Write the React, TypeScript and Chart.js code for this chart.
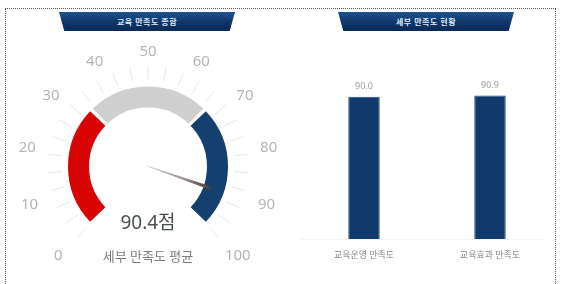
import React, { useEffect, useRef } from "react";
import { Chart, registerables } from "chart.js";

Chart.register(...registerables);

// ---- Gauge data ----
const gaugeMin = 0;
const gaugeMax = 100;
const gaugeBands = [33.33, 33.34, 33.33];
const gaugeBandColors = ["#d80404", "#cfcfcf", "#13406f"];
const gaugeValue = 90.4;
const gaugeTickLabels = [0, 10, 20, 30, 40, 50, 60, 70, 80, 90, 100];
const gaugeMinorTickCount = 27;
const gaugeValueText = "90.4점";
const gaugeCaption = "세부 만족도 평균";

// ---- Bar data ----
const barCategories = ["교육운영 만족도", "교육효과 만족도"];
const barValues = [90.0, 90.9];

// ---- Titles ----
const leftTitle = "교육 만족도 종합";
const rightTitle = "세부 만족도 현황";

const FONT = "'Noto Sans', 'Noto Sans CJK KR', sans-serif";

const gaugeDecor = {
  id: "gaugeDecor",
  afterDatasetsDraw(chart: any) {
    const meta = chart.getDatasetMeta(0);
    const first = meta.data[0];
    const last = meta.data[meta.data.length - 1];
    if (!first) return;
    const cx = first.x;
    const cy = first.y;
    const R = first.outerRadius;
    const a0 = first.startAngle;
    const a1 = last.endAngle;
    const ang = (v: number) => a0 + ((v - gaugeMin) / (gaugeMax - gaugeMin)) * (a1 - a0);
    const ctx = chart.ctx;
    ctx.save();
    // minor ticks
    ctx.strokeStyle = "#e6e6e6";
    ctx.lineWidth = 1;
    for (let i = 0; i < gaugeMinorTickCount; i++) {
      const a = a0 + (i / (gaugeMinorTickCount - 1)) * (a1 - a0);
      ctx.beginPath();
      ctx.moveTo(cx + Math.cos(a) * (R + 8), cy + Math.sin(a) * (R + 8));
      ctx.lineTo(cx + Math.cos(a) * (R + 22), cy + Math.sin(a) * (R + 22));
      ctx.stroke();
    }
    // labels
    ctx.fillStyle = "#b4b4b4";
    ctx.font = `15px ${FONT}`;
    ctx.textAlign = "center";
    ctx.textBaseline = "middle";
    const half = (gaugeMax - gaugeMin) / 2;
    gaugeTickLabels.forEach((v) => {
      const a = ang(v);
      const frac = Math.abs(v - (gaugeMin + half)) / half;
      const r = R + 37 + 12 * frac;
      ctx.fillText(String(v), cx + Math.cos(a) * r, cy + Math.sin(a) * r);
    });
    // needle
    const an = ang(gaugeValue);
    const len = R - 14;
    const px = -Math.sin(an);
    const py = Math.cos(an);
    const grad = ctx.createLinearGradient(cx, cy, cx + Math.cos(an) * len, cy + Math.sin(an) * len);
    grad.addColorStop(0, "#d0d0d0");
    grad.addColorStop(0.6, "#9a9090");
    grad.addColorStop(1, "#4e3e36");
    ctx.fillStyle = grad;
    ctx.beginPath();
    ctx.moveTo(cx + px * 0.4, cy + py * 0.4);
    ctx.lineTo(cx + Math.cos(an) * len + px * 1.8, cy + Math.sin(an) * len + py * 1.8);
    ctx.lineTo(cx + Math.cos(an) * (len + 4), cy + Math.sin(an) * (len + 4));
    ctx.lineTo(cx + Math.cos(an) * len - px * 1.8, cy + Math.sin(an) * len - py * 1.8);
    ctx.lineTo(cx - px * 0.4, cy - py * 0.4);
    ctx.closePath();
    ctx.fill();
    // center text
    ctx.fillStyle = "#4a4f52";
    ctx.font = `19px ${FONT}`;
    ctx.fillText(gaugeValueText, cx, cy + 57);
    ctx.fillStyle = "#7d7d7d";
    ctx.font = `13px ${FONT}`;
    ctx.fillText(gaugeCaption, cx, cy + 91);
    ctx.restore();
  },
};

const barDecor = {
  id: "barDecor",
  afterDatasetsDraw(chart: any) {
    const ctx = chart.ctx;
    const area = chart.chartArea;
    const xs = chart.scales.x;
    const meta = chart.getDatasetMeta(0);
    ctx.save();
    ctx.strokeStyle = "#f2f2f2";
    ctx.lineWidth = 1;
    ctx.beginPath();
    ctx.moveTo(area.left, area.bottom + 0.5);
    ctx.lineTo(area.right - 8, area.bottom + 0.5);
    ctx.stroke();
    ctx.textAlign = "center";
    ctx.textBaseline = "middle";
    ctx.font = `9px ${FONT}`;
    meta.data.forEach((bar: any, i: number) => {
      ctx.fillStyle = "#a0a0a0";
      ctx.fillText(barValues[i].toFixed(1), bar.x, bar.y - 10);
      ctx.fillStyle = "#8a8a8a";
      ctx.fillText(barCategories[i], xs.getPixelForValue(i), area.bottom + 16);
    });
    ctx.restore();
  },
};

function Gauge() {
  const ref = useRef<HTMLCanvasElement>(null);
  useEffect(() => {
    const chart = new Chart(ref.current!, {
      type: "doughnut",
      data: {
        labels: ["low", "mid", "high"],
        datasets: [
          {
            data: gaugeBands,
            backgroundColor: gaugeBandColors,
            borderWidth: 0,
          },
        ],
      },
      options: {
        animation: false,
        responsive: false,
        maintainAspectRatio: false,
        rotation: -135,
        circumference: 270,
        cutout: "73%",
        radius: 78,
        spacing: 4,
        layout: { padding: { left: 14, right: 0, top: 26, bottom: 0 } },
        plugins: { legend: { display: false }, tooltip: { enabled: false } },
      } as any,
      plugins: [gaugeDecor],
    });
    return () => chart.destroy();
  }, []);
  return <canvas ref={ref} width={282} height={284} style={{ position: "absolute", left: 0, top: 0, width: 282, height: 284 }} />;
}

function Bars() {
  const ref = useRef<HTMLCanvasElement>(null);
  useEffect(() => {
    const chart = new Chart(ref.current!, {
      type: "bar",
      data: {
        labels: barCategories,
        datasets: [
          {
            data: barValues,
            backgroundColor: "#0f3a6b",
            borderColor: "#1f4f85",
            borderWidth: 1,
            barPercentage: 0.25,
            categoryPercentage: 1,
          },
        ],
      },
      options: {
        animation: false,
        responsive: false,
        maintainAspectRatio: false,
        layout: { padding: { left: 19, right: 11, top: 81, bottom: 45 } },
        scales: {
          x: { display: false },
          y: { display: false, min: 0, max: 100 },
        },
        plugins: { legend: { display: false }, tooltip: { enabled: false } },
      },
      plugins: [barDecor],
    });
    return () => chart.destroy();
  }, []);
  return <canvas ref={ref} width={282} height={284} style={{ position: "absolute", left: 282, top: 0, width: 282, height: 284 }} />;
}

function Banner({ left, text }: { left: number; text: string }) {
  return (
    <div
      style={{
        position: "absolute",
        left,
        top: 12,
        width: 176,
        height: 19,
        clipPath: "polygon(0 0, 100% 0, 97% 100%, 3% 100%)",
        background: "linear-gradient(to bottom, #1d528f 0%, #0e3366 60%, #0a2a55 100%)",
        color: "#dfe8f5",
        fontFamily: FONT,
        fontSize: 8,
        fontWeight: 700,
        lineHeight: "19px",
        textAlign: "center",
        letterSpacing: 0.5,
      }}
    >
      {text}
    </div>
  );
}

export default function App() {
  return (
    <div style={{ position: "fixed", left: 0, top: 0, width: 564, height: 284, overflow: "hidden", background: "#fff" }}>
      <div
        style={{
          position: "absolute",
          left: 5,
          top: 8,
          width: 551,
          height: 300,
          border: "1px dotted #555",
          boxSizing: "border-box",
        }}
      />
      <Gauge />
      <Bars />
      <Banner left={59} text={leftTitle} />
      <Banner left={338} text={rightTitle} />
    </div>
  );
}
